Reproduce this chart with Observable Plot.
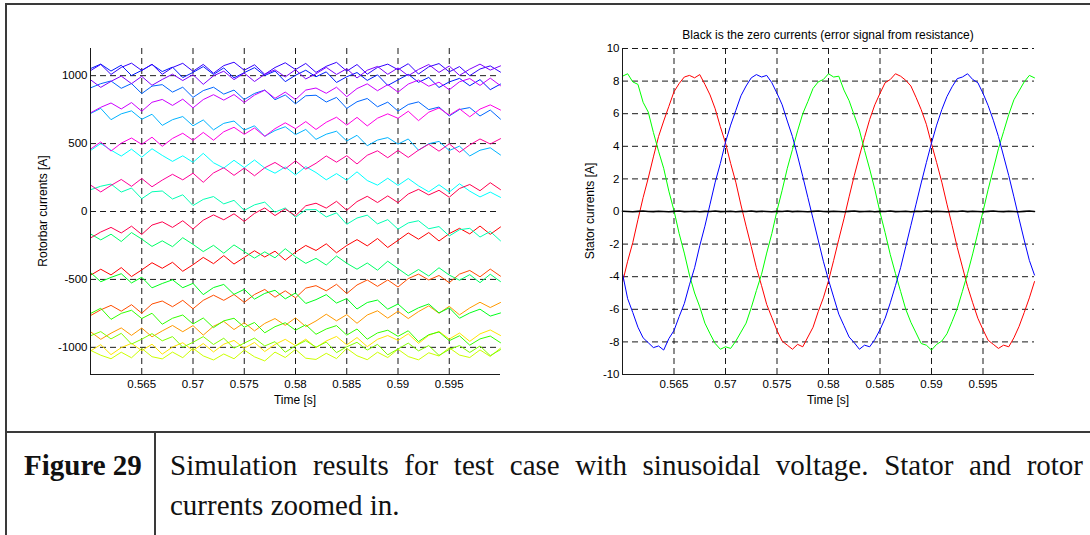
<!DOCTYPE html>
<html><head><meta charset="utf-8">
<script src="https://cdn.jsdelivr.net/npm/d3@7"></script>
<script src="https://cdn.jsdelivr.net/npm/@observablehq/plot@0.6"></script>
<style>
html,body{margin:0;padding:0;background:#fff;}
#page{position:relative;width:1090px;height:535px;overflow:hidden;font-family:"Liberation Sans",Arial,Helvetica,sans-serif;color:#000;}
.abs{position:absolute;}
.rule{position:absolute;background:#3a3a3a;}
.lbl{position:absolute;white-space:nowrap;font-size:12px;transform:translate(-50%,-50%);}
.rot{transform:translate(-50%,-50%) rotate(-90deg);}
.cap{position:absolute;font-family:"Liberation Serif","Times New Roman",serif;font-size:29px;line-height:40px;color:#111;}
</style></head><body>
<div id="page">
  <div id="leftChart" class="abs" style="left:0;top:0;"></div>
  <div id="rightChart" class="abs" style="left:545px;top:0;"></div>
  <div class="lbl" style="left:295px;top:400px;">Time [s]</div>
  <div class="lbl rot" style="left:43px;top:211px;">Rotorbar currents [A]</div>
  <div class="lbl" style="left:828px;top:400px;">Time [s]</div>
  <div class="lbl rot" style="left:590px;top:211px;">Stator currents [A]</div>
  <div class="lbl" style="left:828px;top:35px;font-size:12px;">Black is the zero currents (error signal from resistance)</div>
  <div class="rule" style="left:5px;top:3px;width:1085px;height:2px;"></div>
  <div class="rule" style="left:5px;top:3px;width:2px;height:532px;"></div>
  <div class="rule" style="left:5px;top:431px;width:1085px;height:2px;"></div>
  <div class="rule" style="left:154px;top:431px;width:2px;height:104px;"></div>
  <div class="cap" style="left:24px;top:445px;font-weight:bold;">Figure 29</div>
  <div class="cap" style="left:170px;top:445px;width:913px;text-align:justify;">Simulation results for test case with sinusoidal voltage. Stator and rotor currents zoomed in.</div>
</div>
<script>
// ---------- shared axis values ----------
const timeDomain = [0.56, 0.6];
const xTicks = [0.565, 0.57, 0.575, 0.58, 0.585, 0.59, 0.595];
const xTickLabels = ["0.565", "0.57", "0.575", "0.58", "0.585", "0.59", "0.595"];

// ---------- rotor bar currents (left) ----------
const rotorDomain = [-1200, 1200];
const rotorYTicks = [-1000, -500, 0, 500, 1000];
const rotorTime = [0.560,0.561,0.562,0.563,0.564,0.565,0.566,0.567,0.568,0.569,0.570,0.571,0.572,0.573,0.574,0.575,0.576,0.577,0.578,0.579,0.580,0.581,0.582,0.583,0.584,0.585,0.586,0.587,0.588,0.589,0.590,0.591,0.592,0.593,0.594,0.595,0.596,0.597,0.598,0.599,0.600];
const rotorColors = ["#ff0000","#ff4d00","#ff9900","#ffe600","#ccff00","#80ff00","#33ff00","#00ff1a","#00ff66","#00ffb3","#00ffff","#00b3ff","#0066ff","#001aff","#3300ff","#8000ff","#cc00ff","#ff00e6","#ff0099","#ff004d"];
const rotorBar01 = [-469,-425,-467,-413,-479,-430,-377,-418,-374,-440,-392,-338,-384,-325,-387,-338,-289,-335,-292,-358,-299,-250,-287,-238,-304,-250,-207,-253,-199,-265,-212,-158,-204,-155,-217,-163,-124,-165,-107,-168,-114];
const rotorBar02 = [-766,-724,-691,-734,-686,-749,-681,-659,-701,-654,-716,-654,-616,-654,-611,-669,-611,-574,-631,-584,-636,-564,-546,-584,-536,-604,-541,-504,-551,-504,-556,-494,-461,-504,-471,-524,-461,-434,-481,-424,-476];
const rotorBar03 = [-885,-941,-896,-857,-912,-858,-923,-879,-839,-885,-840,-910,-845,-809,-869,-819,-879,-824,-788,-838,-783,-847,-806,-756,-805,-759,-823,-762,-731,-785,-734,-788,-737,-695,-749,-698,-761,-710,-668,-707,-670];
const rotorBar04 = [-1027,-980,-1054,-1002,-971,-1024,-977,-1050,-998,-966,-1024,-972,-1034,-977,-949,-1007,-964,-1031,-979,-941,-988,-940,-1002,-953,-920,-982,-928,-995,-941,-913,-949,-900,-971,-912,-883,-939,-895,-956,-901,-872,-913];
const rotorBar05 = [-1022,-1058,-1084,-1036,-1077,-1008,-1069,-1085,-1035,-1076,-1007,-1063,-1093,-1049,-1084,-1020,-1070,-1100,-1035,-1075,-1015,-1080,-1089,-1044,-1083,-1008,-1062,-1091,-1036,-1075,-1014,-1068,-1092,-1040,-1064,-1003,-1057,-1075,-1019,-1067,-1006];
const rotorBar06 = [-915,-884,-938,-897,-976,-940,-899,-952,-921,-999,-963,-921,-979,-933,-1006,-969,-932,-990,-958,-1036,-989,-951,-999,-961,-1039,-996,-963,-1020,-978,-1055,-1012,-969,-1026,-987,-1059,-1016,-987,-1038,-990,-1061,-1017];
const rotorBar07 = [-751,-712,-794,-750,-727,-788,-749,-830,-786,-762,-828,-784,-855,-805,-786,-852,-817,-893,-848,-819,-874,-834,-904,-865,-840,-910,-865,-940,-894,-874,-919,-878,-958,-907,-887,-951,-915,-984,-938,-917,-966];
const rotorBar08 = [-449,-517,-485,-458,-526,-484,-562,-530,-503,-561,-529,-612,-560,-537,-610,-573,-645,-603,-580,-643,-600,-677,-649,-612,-674,-641,-718,-670,-652,-719,-681,-748,-709,-681,-747,-709,-786,-747,-719,-770,-747];
const rotorBar09 = [-165,-209,-167,-221,-155,-203,-257,-216,-259,-193,-242,-295,-249,-307,-246,-295,-343,-297,-341,-274,-333,-382,-345,-394,-328,-381,-425,-379,-432,-366,-420,-473,-427,-475,-414,-468,-506,-465,-524,-462,-516];
const rotorBar10 = [160,186,202,143,173,94,145,151,92,123,44,89,110,56,82,8,49,69,-5,26,-43,13,14,-40,-10,-94,-48,-27,-91,-60,-130,-84,-68,-127,-111,-180,-134,-124,-188,-147,-216];
const rotorBar11 = [449,500,452,408,459,400,462,413,369,410,362,428,359,320,377,323,379,320,282,328,269,330,287,233,279,230,292,228,194,245,192,243,189,145,197,143,204,150,107,143,104];
const rotorBar12 = [721,759,676,719,741,679,716,634,676,699,631,674,601,649,666,599,631,554,596,624,566,604,531,569,591,519,561,484,526,544,496,534,451,499,516,449,481,409,451,469,416];
const rotorBar13 = [910,941,961,907,942,868,923,934,879,915,840,890,915,864,894,824,869,894,823,858,793,852,856,806,840,759,808,832,771,805,739,788,807,750,769,703,751,765,703,747,680];
const rotorBar14 = [1052,1085,1034,1077,1001,1039,1082,1030,1063,986,1024,1067,1009,1057,984,1022,1059,1001,1034,956,1003,1040,992,1028,950,992,1023,965,1006,928,969,1010,951,987,913,954,980,926,971,897,938];
const rotorBar15 = [1037,1083,1009,1061,1092,1038,1084,1010,1060,1091,1032,1083,1018,1074,1099,1040,1080,1010,1060,1095,1045,1090,1024,1069,1098,1033,1082,1011,1061,1085,1044,1088,1012,1065,1089,1028,1067,1000,1049,1072,1026];
const rotorBar16 = [970,914,958,997,941,995,929,972,1011,964,1008,936,999,1033,971,1019,957,1010,1043,991,1044,976,1014,1061,1009,1051,983,1040,1068,1010,1057,999,1046,1082,1024,1071,1002,1048,1085,1041,1072];
const rotorBar17 = [726,767,799,755,802,738,804,825,781,827,763,824,860,820,861,802,857,893,833,879,824,894,909,870,915,845,905,940,889,934,879,938,968,922,952,896,955,979,928,982,926];
const rotorBar18 = [459,512,445,503,541,494,547,480,538,576,524,582,525,587,620,568,615,553,610,653,610,662,604,657,694,636,693,630,687,719,686,738,669,731,762,709,756,697,754,785,747];
const rotorBar19 = [195,144,192,236,185,243,182,231,274,233,282,215,284,322,266,320,263,322,361,314,373,312,355,409,363,411,350,414,447,396,450,398,452,495,444,498,436,490,534,497,536];
const rotorBar20 = [-195,-151,-117,-158,-108,-169,-100,-76,-117,-68,-129,-64,-25,-61,-17,-73,-14,26,-30,19,-32,42,61,25,75,9,73,112,66,115,65,129,163,122,156,105,169,199,153,212,161];

// ---------- stator currents (right) ----------
const statorDomain = [-10, 10];
const statorYTicks = [-10, -8, -6, -4, -2, 0, 2, 4, 6, 8, 10];
const statorTime = [0.5600,0.5605,0.5610,0.5615,0.5620,0.5625,0.5630,0.5635,0.5640,0.5645,0.5650,0.5655,0.5660,0.5665,0.5670,0.5675,0.5680,0.5685,0.5690,0.5695,0.5700,0.5705,0.5710,0.5715,0.5720,0.5725,0.5730,0.5735,0.5740,0.5745,0.5750,0.5755,0.5760,0.5765,0.5770,0.5775,0.5780,0.5785,0.5790,0.5795,0.5800,0.5805,0.5810,0.5815,0.5820,0.5825,0.5830,0.5835,0.5840,0.5845,0.5850,0.5855,0.5860,0.5865,0.5870,0.5875,0.5880,0.5885,0.5890,0.5895,0.5900,0.5905,0.5910,0.5915,0.5920,0.5925,0.5930,0.5935,0.5940,0.5945,0.5950,0.5955,0.5960,0.5965,0.5970,0.5975,0.5980,0.5985,0.5990,0.5995,0.6000];
const statorRed = [-4.35,-3.05,-1.90,-0.50,0.85,2.05,3.35,4.60,5.55,6.45,7.35,7.85,8.25,8.35,8.20,8.40,7.80,7.15,6.30,5.20,4.20,2.95,1.80,0.40,-0.90,-2.15,-3.45,-4.55,-5.70,-6.50,-7.30,-7.95,-8.20,-8.45,-8.15,-8.30,-7.70,-7.10,-6.15,-5.30,-4.25,-3.00,-1.70,-0.45,0.90,2.20,3.40,4.55,5.65,6.55,7.25,7.90,8.10,8.45,8.30,8.05,7.70,7.00,6.25,5.35,4.15,3.00,1.80,0.45,-0.85,-2.20,-3.40,-4.60,-5.60,-6.55,-7.25,-7.90,-8.15,-8.40,-8.20,-8.30,-7.75,-7.05,-6.20,-5.30,-4.30];
const statorGreen = [8.30,8.45,7.95,7.80,6.70,6.10,4.85,3.70,2.65,1.25,0.05,-1.35,-2.55,-3.90,-5.00,-5.85,-6.85,-7.50,-8.10,-8.45,-8.30,-8.40,-7.95,-7.40,-6.85,-5.90,-4.85,-3.85,-2.55,-1.35,0.05,1.30,2.65,3.80,4.95,6.00,6.75,7.55,7.95,8.10,8.45,8.25,8.30,7.45,6.80,5.90,5.00,3.75,2.60,1.35,-0.05,-1.30,-2.65,-3.80,-4.90,-6.00,-6.80,-7.45,-8.10,-8.20,-8.50,-8.15,-7.95,-7.50,-6.75,-5.95,-4.90,-3.80,-2.60,-1.30,0.00,1.35,2.60,3.85,4.90,5.95,6.85,7.40,7.95,8.35,8.20];
const statorBlue = [-3.80,-5.35,-6.20,-7.10,-7.75,-8.05,-8.35,-8.25,-8.50,-7.80,-7.30,-6.45,-5.65,-4.50,-3.45,-2.10,-0.90,0.45,1.80,2.95,4.25,5.30,6.20,7.10,7.70,8.20,8.40,8.25,8.35,7.90,7.25,6.55,5.55,4.60,3.40,2.15,0.85,-0.45,-1.75,-3.05,-4.20,-5.25,-6.30,-7.00,-7.70,-8.05,-8.45,-8.20,-8.30,-7.85,-7.25,-6.55,-5.60,-4.55,-3.45,-2.15,-0.85,0.45,1.75,3.00,4.20,5.30,6.25,7.05,7.65,8.15,8.25,8.45,8.10,7.90,7.25,6.50,5.60,4.60,3.40,2.20,0.90,-0.45,-1.75,-3.00,-3.90];
const zeroCurrent = [0.02,0.00,-0.02,0.01,0.03,0.00,-0.01,0.02,0.00,-0.02,0.01,0.03,-0.01,0.00,0.02,-0.02,0.01,0.00,0.03,-0.01,0.00,0.02,-0.02,0.01,0.00,0.03,-0.01,0.02,0.00,-0.02,0.01,0.00,0.03,-0.01,0.02,0.00,-0.02,0.01,0.03,0.00,-0.01,0.02,0.00,-0.02,0.01,0.03,-0.01,0.00,0.02,-0.02,0.01,0.00,0.03,-0.01,0.00,0.02,-0.02,0.01,0.00,0.03,-0.01,0.02,0.00,-0.02,0.01,0.00,0.03,-0.01,0.02,0.00,-0.02,0.01,0.03,0.00,-0.01,0.02,0.00,-0.02,0.01,0.03,0.00];
const statorSeries = [
  {values: statorRed, color: "#ff0000"},
  {values: statorGreen, color: "#00ff00"},
  {values: statorBlue, color: "#0000ff"}
];

// ---------- drawing ----------
const fontFamily = '"Liberation Sans", Arial, Helvetica, sans-serif';
const gridStyle = {stroke: "#000", strokeDasharray: "6,4", strokeOpacity: 0.9, strokeWidth: 1};
const axisStyle = {stroke: "#1a1a1a", strokeWidth: 1};
const xLabel = d => xTickLabels[xTicks.indexOf(d)];
const rows = (times, vals) => times.map((t, i) => ({t, v: vals[i]}));

const rotorSeries = [rotorBar01,rotorBar02,rotorBar03,rotorBar04,rotorBar05,rotorBar06,rotorBar07,rotorBar08,rotorBar09,rotorBar10,rotorBar11,rotorBar12,rotorBar13,rotorBar14,rotorBar15,rotorBar16,rotorBar17,rotorBar18,rotorBar19,rotorBar20];

const left = Plot.plot({
  width: 545, height: 420,
  marginLeft: 90, marginRight: 45, marginTop: 48, marginBottom: 46,
  x: {domain: timeDomain},
  y: {domain: rotorDomain},
  style: {fontFamily, fontSize: "11.5px", color: "#000", background: "transparent", overflow: "visible"},
  marks: [
    Plot.ruleX(xTicks, gridStyle),
    Plot.ruleY(rotorYTicks, gridStyle),
    ...rotorSeries.map((vals, k) => Plot.line(rows(rotorTime, vals), {x: "t", y: "v", stroke: rotorColors[k], strokeWidth: 1})),
    Plot.ruleX([timeDomain[0]], axisStyle),
    Plot.ruleY([rotorDomain[0]], axisStyle),
    Plot.axisX(xTicks, {tickSize: 0, tickPadding: 5, tickFormat: xLabel, label: null}),
    Plot.axisY(rotorYTicks, {tickSize: 0, tickPadding: 3, tickFormat: d => String(d), label: null})
  ]
});
document.getElementById("leftChart").appendChild(left);

const right = Plot.plot({
  width: 545, height: 420,
  marginLeft: 77, marginRight: 56, marginTop: 48, marginBottom: 46,
  x: {domain: timeDomain},
  y: {domain: statorDomain},
  style: {fontFamily, fontSize: "11.5px", color: "#000", background: "transparent", overflow: "visible"},
  marks: [
    Plot.ruleX(xTicks, gridStyle),
    Plot.ruleY(statorYTicks, gridStyle),
    ...statorSeries.map(s => Plot.line(rows(statorTime, s.values), {x: "t", y: "v", stroke: s.color, strokeWidth: 1})),
    Plot.line(rows(statorTime, zeroCurrent), {x: "t", y: "v", stroke: "#000", strokeWidth: 1.6}),
    Plot.ruleX([timeDomain[0]], axisStyle),
    Plot.ruleY([statorDomain[0]], axisStyle),
    Plot.axisX(xTicks, {tickSize: 0, tickPadding: 5, tickFormat: xLabel, label: null}),
    Plot.axisY(statorYTicks, {tickSize: 0, tickPadding: 3, tickFormat: d => String(d), label: null})
  ]
});
document.getElementById("rightChart").appendChild(right);
</script>
</body></html>
